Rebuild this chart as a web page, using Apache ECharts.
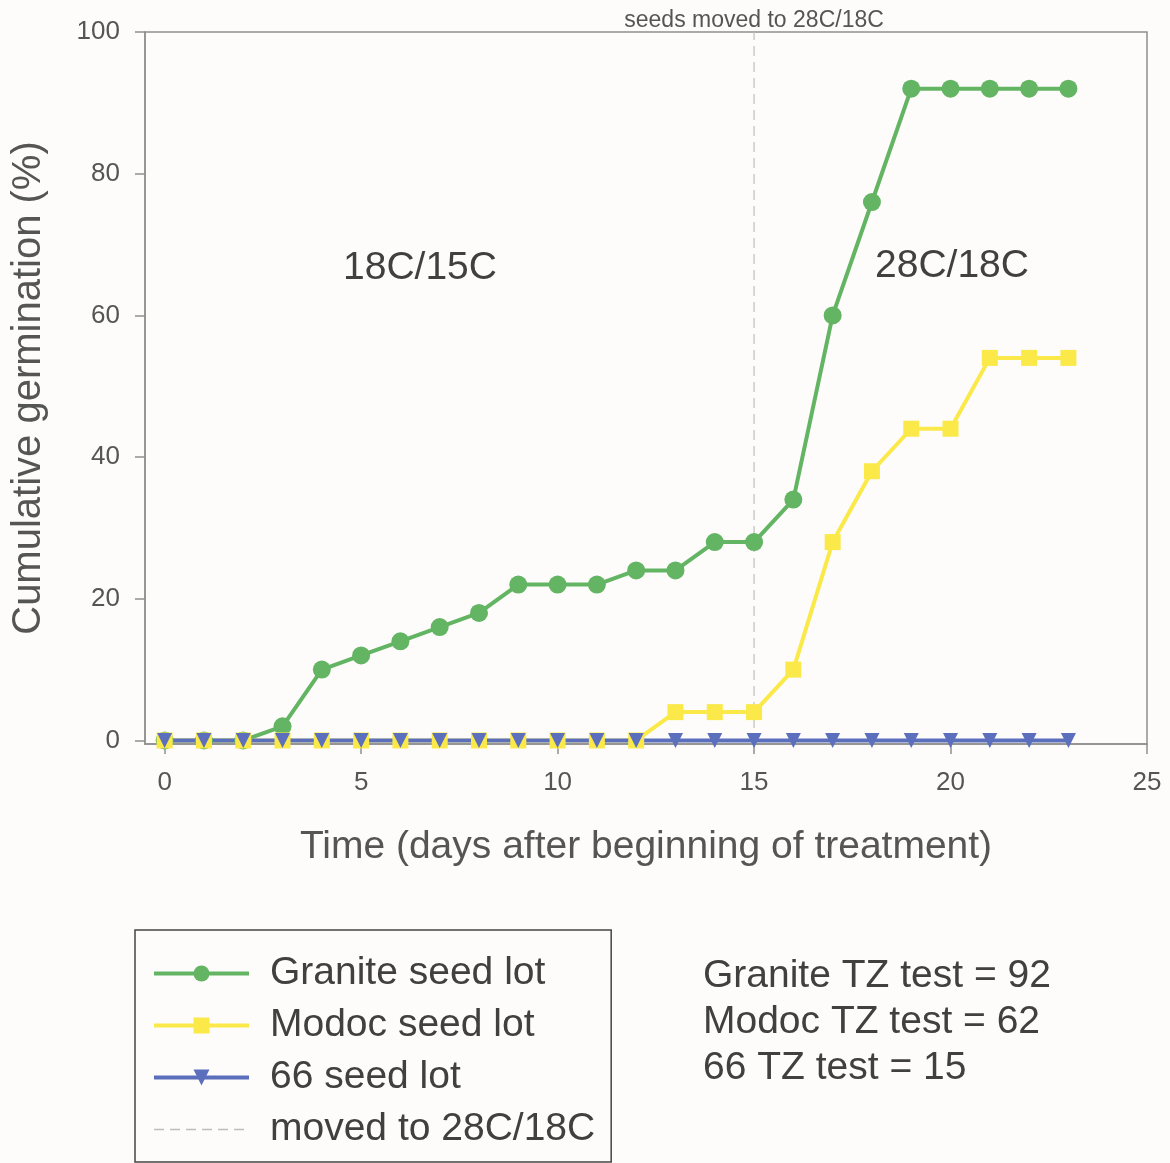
<!DOCTYPE html>
<html>
<head>
<meta charset="utf-8">
<script src="https://cdn.jsdelivr.net/npm/echarts@6/dist/echarts.min.js"></script>
<style>
  html, body { margin: 0; padding: 0; background: #fdfcfa; }
  #chart { width: 1170px; height: 1163px; }
</style>
</head>
<body>
<div id="chart"></div>
<script>
// days after beginning of treatment
const days = [0, 1, 2, 3, 4, 5, 6, 7, 8, 9, 10, 11, 12, 13, 14, 15, 16, 17, 18, 19, 20, 21, 22, 23];
// cumulative germination (%)
const granite = [0, 0, 0, 2, 10, 12, 14, 16, 18, 22, 22, 22, 24, 24, 28, 28, 34, 60, 76, 92, 92, 92, 92, 92];
const modoc = [0, 0, 0, 0, 0, 0, 0, 0, 0, 0, 0, 0, 0, 4, 4, 4, 10, 28, 38, 44, 44, 54, 54, 54];
const lot66 = [0, 0, 0, 0, 0, 0, 0, 0, 0, 0, 0, 0, 0, 0, 0, 0, 0, 0, 0, 0, 0, 0, 0, 0];
const moveDay = 15;
const xTicks = [0, 5, 10, 15, 20, 25];
const yTicks = [0, 20, 40, 60, 80, 100];
const tzLines = ['Granite TZ test = 92', 'Modoc TZ test = 62', '66 TZ test = 15'];

const font = '"Liberation Sans", Arial, sans-serif';
const txt = '#555';
const dark = '#404040';
const axisCol = '#8f8f8f';

function pairs(vals) {
    return days.map(function (d, i) { return [d, vals[i]]; });
}

const chart = echarts.init(document.getElementById('chart'));

const option = {
    backgroundColor: '#fdfcfa',
    animation: false,
    textStyle: { fontFamily: font },
    grid: {
        left: 145, top: 32, right: 23, bottom: 419,
        show: true, borderColor: axisCol, borderWidth: 1.5
    },
    xAxis: {
        type: 'value',
        min: -0.5,
        max: 25,
        name: 'Time (days after beginning of treatment)',
        nameLocation: 'middle',
        nameGap: 84,
        nameTextStyle: { fontSize: 39, color: txt },
        axisLine: { onZero: false, lineStyle: { color: axisCol, width: 1.5 } },
        axisTick: { customValues: xTicks, length: 10, lineStyle: { color: axisCol, width: 1.5 } },
        axisLabel: { customValues: xTicks, fontSize: 26, color: txt, margin: 26 },
        splitLine: { show: false }
    },
    yAxis: {
        type: 'value',
        min: -0.5,
        max: 100,
        name: 'Cumulative germination (%)',
        nameLocation: 'middle',
        nameGap: 96,
        nameTextStyle: { fontSize: 40, color: txt },
        axisLine: { show: true, onZero: false, lineStyle: { color: axisCol, width: 1.5 } },
        axisTick: { show: true, customValues: yTicks, length: 10, lineStyle: { color: axisCol, width: 1.5 } },
        axisLabel: { customValues: yTicks, fontSize: 26, color: txt, margin: 25 },
        splitLine: { show: false }
    },
    legend: {
        orient: 'vertical',
        left: 135,
        top: 930,
        padding: [24, 16, 13, 17],
        itemGap: 13,
        itemWidth: 95,
        itemHeight: 20,
        borderColor: '#444',
        borderWidth: 1.5,
        backgroundColor: '#fdfcfa',
        lineStyle: { width: 4 },
        textStyle: { fontSize: 39, color: dark, padding: [0, 0, 0, 16] },
        data: [
            'Granite seed lot',
            'Modoc seed lot',
            '66 seed lot',
            { name: 'moved to 28C/18C', itemStyle: { opacity: 0 }, lineStyle: { width: 1.5 } }
        ]
    },
    series: [
        {
            name: 'Granite seed lot',
            type: 'line',
            data: pairs(granite),
            symbol: 'circle',
            symbolSize: 18,
            lineStyle: { color: '#63b463', width: 4 },
            itemStyle: { color: '#63b463' }
        },
        {
            name: 'Modoc seed lot',
            type: 'line',
            data: pairs(modoc),
            symbol: 'rect',
            symbolSize: 16,
            lineStyle: { color: '#fbe94a', width: 4 },
            itemStyle: { color: '#fbe94a' }
        },
        {
            name: '66 seed lot',
            type: 'line',
            data: pairs(lot66),
            symbol: 'triangle',
            symbolRotate: 180,
            symbolSize: 15,
            lineStyle: { color: '#5b6fbd', width: 4 },
            itemStyle: { color: '#5b6fbd' }
        },
        {
            name: 'moved to 28C/18C',
            type: 'line',
            data: [[moveDay, -0.5], [moveDay, 100]],
            symbol: 'none',
            lineStyle: { color: '#bdbdbd', width: 1.2, type: [10, 6] },
            itemStyle: { color: '#bdbdbd' },
            z: 1,
            markPoint: {
                symbol: 'rect',
                symbolSize: 0,
                data: [{ coord: [moveDay, 100] }],
                label: {
                    show: true,
                    position: 'top',
                    distance: 0,
                    formatter: 'seeds moved to 28C/18C',
                    fontSize: 23,
                    color: txt
                }
            }
        }
    ],
    graphic: [
        { type: 'text', left: 343, top: 249, style: { text: '18C/15C', font: '39px ' + font, fill: dark } },
        { type: 'text', left: 875, top: 247, style: { text: '28C/18C', font: '39px ' + font, fill: dark } },
        { type: 'text', left: 703, top: 957, style: { text: tzLines[0], font: '39px ' + font, fill: dark } },
        { type: 'text', left: 703, top: 1003, style: { text: tzLines[1], font: '39px ' + font, fill: dark } },
        { type: 'text', left: 703, top: 1049, style: { text: tzLines[2], font: '39px ' + font, fill: dark } }
    ]
};

chart.setOption(option);
</script>
</body>
</html>
